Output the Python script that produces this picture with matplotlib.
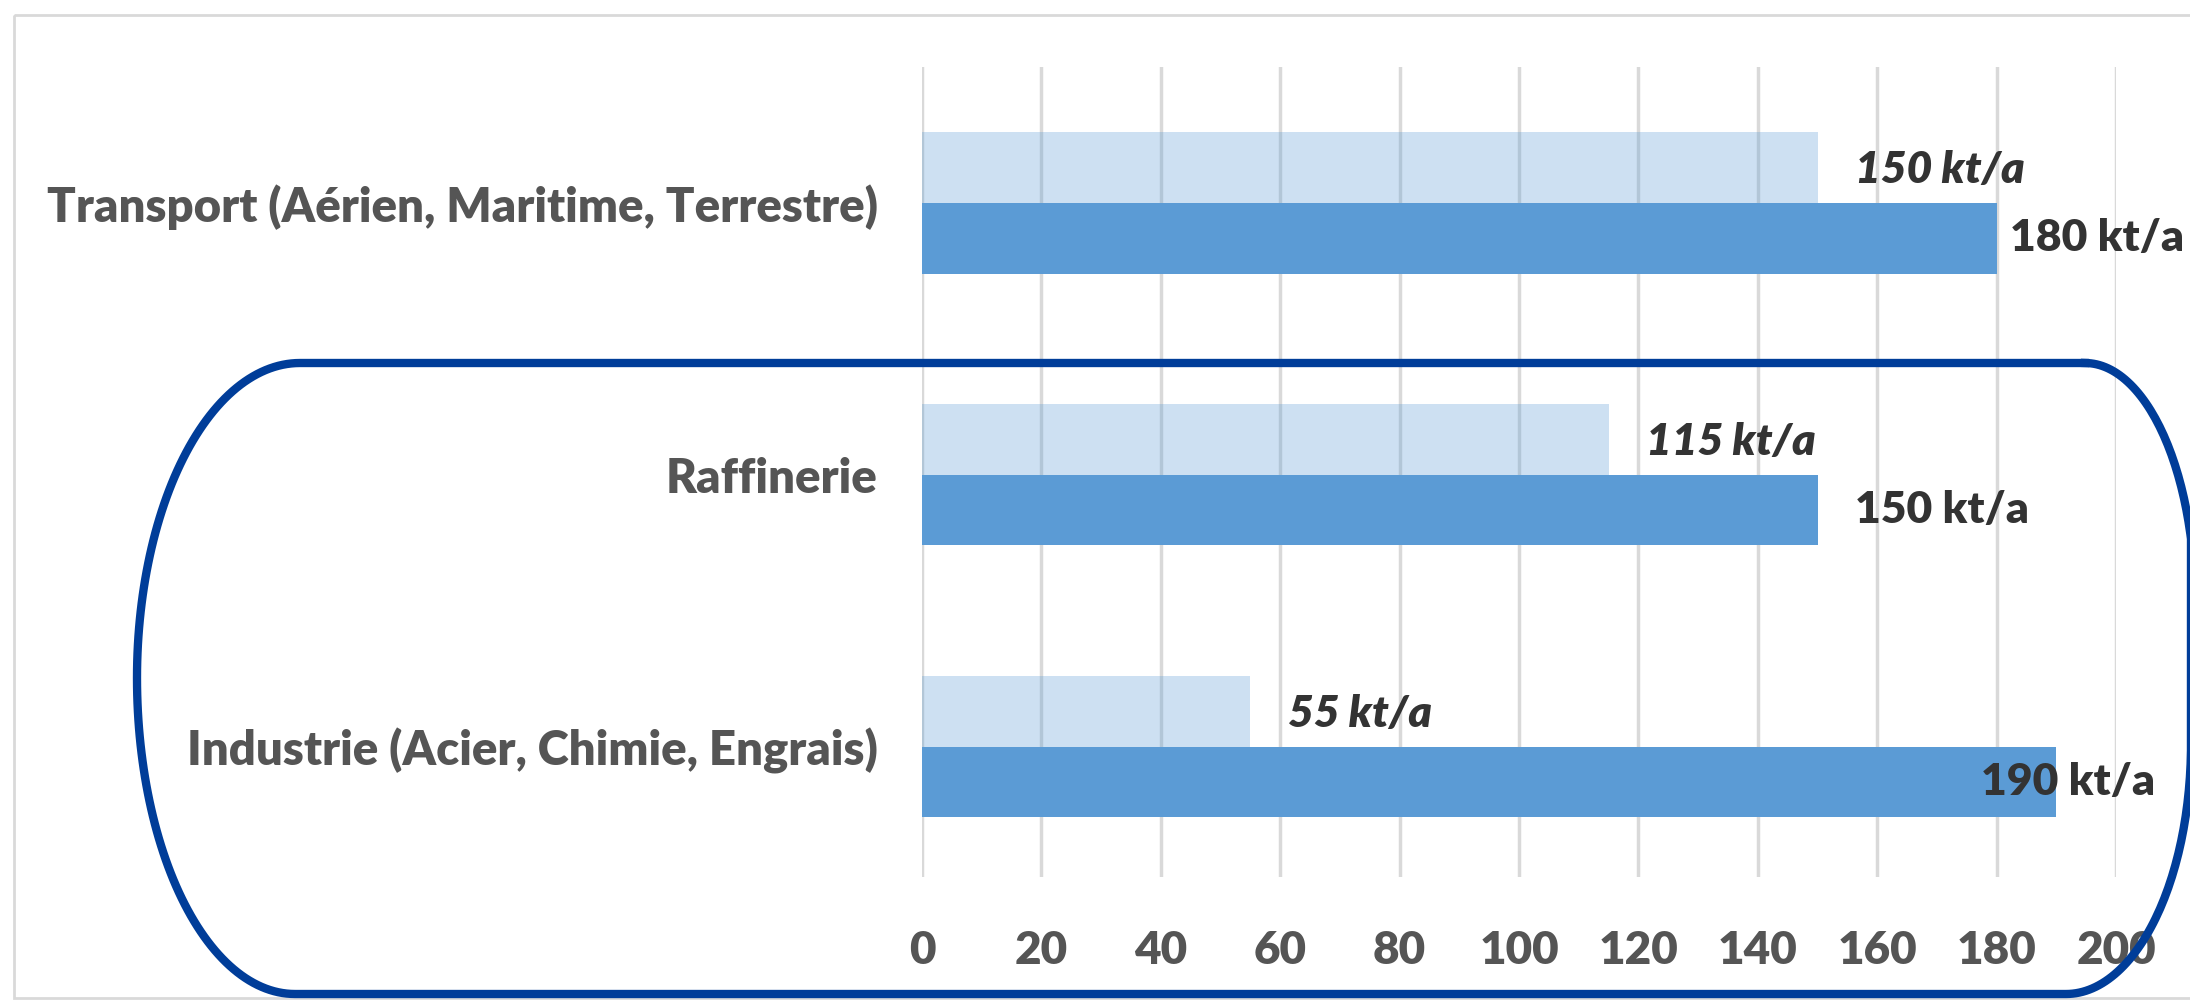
import numpy as np
import matplotlib.pyplot as plt
from matplotlib.patches import Rectangle
from matplotlib.transforms import Affine2D

plt.rcParams['font.family'] = ['Lato', 'DejaVu Sans']

categories = ['Transport (Aérien, Maritime, Terrestre)', 'Raffinerie',
              'Industrie (Acier, Chimie, Engrais)']
demande_actuelle = [150, 115, 55]     # pale bars (italic labels)
demande_future = [180, 150, 190]      # solid bars
xticks = list(range(0, 201, 20))

W, H = 2190, 1000
fig = plt.figure(figsize=(W / 100, H / 100), dpi=100)
px = Affine2D().scale(1 / W, -1 / H).translate(0, 1) + fig.transFigure

# light frame around the chart area
fig.patches.append(Rectangle((14, 15), 2200, 983, transform=px, fill=False,
                             edgecolor='#d9d9d9', linewidth=2))

ax = fig.add_axes([922 / W, 1 - 877 / H, (2116 - 922) / W, (877 - 67) / H])
ax.set_zorder(2)
ax.patch.set_visible(False)

y = np.arange(len(categories))
h = 0.26
blue = '#5b9bd5'
ax.barh(y - h / 2, demande_actuelle, height=h, color=blue, alpha=0.3, zorder=3)
ax.barh(y + h / 2, demande_future, height=h, color=blue, zorder=3)

ax.set_xlim(0, 200)
ax.set_ylim(2.48, -0.5)
ax.set_xticks(xticks)
ax.set_yticks(y, categories)
ax.grid(axis='x', color='#d9d9d9', linewidth=2.5, zorder=1)
for s in ax.spines.values():
    s.set_visible(False)
ax.tick_params(axis='x', length=0, pad=38, labelsize=33, labelcolor='#555555')
ax.tick_params(axis='y', length=0, pad=32, labelsize=34, labelcolor='#555555')
for t in ax.get_xticklabels() + ax.get_yticklabels():
    t.set_fontweight('heavy')

# value labels, offsets in points from the bar end
off_light = [27, 27, 27]
off_dark = [10, 27, -54]
for i, v in enumerate(demande_actuelle):
    ax.annotate(f'{v} kt/a', (v, y[i] - h / 2), xytext=(off_light[i], -2),
                textcoords='offset points', ha='left', va='center',
                fontsize=32, fontweight='heavy', style='italic', color='#333333',
                zorder=5)
for i, v in enumerate(demande_future):
    ax.annotate(f'{v} kt/a', (v, y[i] + h / 2), xytext=(off_dark[i], 0),
                textcoords='offset points', ha='left', va='center',
                fontsize=32, fontweight='heavy', color='#333333', zorder=5)

# dark blue outline drawn around the last two categories
def quarter(cx, cy, rx, ry, a0, a1, n=60):
    t = np.linspace(np.radians(a0), np.radians(a1), n)
    return np.c_[cx + rx * np.cos(t), cy - ry * np.sin(t)]

top, bot = 363, 994
pts = np.vstack([
    quarter(2085, top + 240, 110, 240, 90, 0),      # top right
    quarter(2066, bot - 250, 125, 250, 0, -90),     # bottom right
    quarter(295, bot - 316, 158, 316, 270, 180),    # bottom left
    quarter(300, top + 315, 163, 315, 180, 90),     # top left
])
pts = np.vstack([pts, pts[:1]])
fig.lines.append(plt.Line2D(pts[:, 0], pts[:, 1], transform=px,
                            color='#003d99', linewidth=6, zorder=10))

fig.savefig('out.png', dpi=100)
